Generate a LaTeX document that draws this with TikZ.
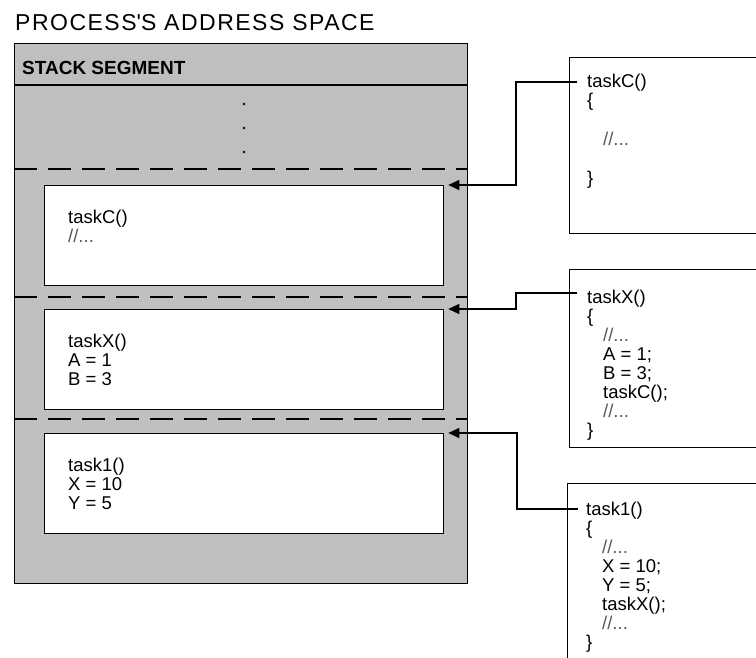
\documentclass[tikz,border=0pt]{standalone}
\usepackage{fontspec}
\setmainfont{Liberation Sans}
\newfontfamily\titlefont[LetterSpace=6.5]{Liberation Sans}
\usepackage{tikz}
\usetikzlibrary{arrows, arrows.meta, positioning}
\definecolor{stackgray}{HTML}{BFBFBF}
\newcommand{\codefont}{\fontsize{18.5}{19}\selectfont}
\newcommand{\gcomment}{\textcolor{black!65}{//...}}
\newcommand{\ind}{\hspace*{16pt}}
\tikzstyle{segment} = [rectangle, draw=black, fill=stackgray, line width=1.3pt, inner sep=0pt]
\tikzstyle{stackframe} = [rectangle, draw=black, fill=white, minimum width=399pt, minimum height=100pt, line width=1.3pt, inner sep=0pt]
\tikzstyle{listing} = [rectangle, draw=black, fill=white, minimum width=260pt, line width=1.3pt, inner sep=0pt]
\tikzstyle{code} = [align=left, inner sep=0pt, font=\codefont, anchor=north west]
\tikzstyle{divider} = [line width=1.4pt, dash pattern=on 23pt off 11pt]
\tikzstyle{arrow} = [line width=1.3pt, ->, >={Triangle[length=11pt,width=10pt]}]

\begin{document}
\begin{tikzpicture}[x=1pt, y=1pt]
\clip (0,0) rectangle (756,-657);
\node (title) [anchor=base west, inner sep=0pt, font=\titlefont\fontsize{23}{26}\selectfont] at (15,-30) {PROCESS\textquotesingle S ADDRESS SPACE};

% stack segment
\node (stack) [segment, minimum width=453pt, minimum height=540pt, anchor=north west] at (14,-43) {};
\node (header) [anchor=base west, inner sep=0pt, font=\fontsize{19}{22}\selectfont\bfseries] at (22,-74) {STACK SEGMENT};
\draw [line width=1.3pt] (14,-85) -- (467,-85);
\foreach \y in {104,128,152}
  \fill (244,-\y) circle (1.4pt);
\foreach \y in {169,297,419}
  \draw [divider] (14,-\y) -- (467,-\y);

% frames on the stack
\node (frameC) [stackframe, anchor=north west] at (44,-185) {};
\node (frameX) [stackframe, anchor=north west] at (44,-309) {};
\node (frameOne) [stackframe, anchor=north west] at (44,-433) {};
\node (frameCtxt) [code] at ([shift={(24,-24.5)}]frameC.north west) {taskC()\\\gcomment};
\node (frameXtxt) [code] at ([shift={(24,-24.5)}]frameX.north west) {taskX()\\A = 1\\B = 3};
\node (frameOnetxt) [code] at ([shift={(24,-24.5)}]frameOne.north west) {task1()\\X = 10\\Y = 5};

% source listings
\node (listC) [listing, minimum height=176pt, anchor=north west] at (569,-57) {};
\node (listX) [listing, minimum height=178pt, anchor=north west] at (569,-269) {};
\node (listOne) [listing, minimum height=250pt, anchor=north west] at (567,-483) {};
\node (listCtxt) [code] at ([shift={(18,-16.5)}]listC.north west) {taskC()\\\{\\[20pt]\ind\gcomment\\[20pt]\}};
\node (listXtxt) [code] at ([shift={(18,-20.5)}]listX.north west) {taskX()\\\{\\\ind\gcomment\\\ind A = 1;\\\ind B = 3;\\\ind taskC();\\\ind\gcomment\\\}};
\node (listOnetxt) [code] at ([shift={(19,-18.5)}]listOne.north west) {task1()\\\{\\\ind\gcomment\\\ind X = 10;\\\ind Y = 5;\\\ind taskX();\\\ind\gcomment\\\}};

\coordinate (inC) at (577,-82);
\coordinate (inX) at (577,-293);
\coordinate (inOne) at (578,-509);

\draw [arrow] (inC) -- ++(-61,0) |- ([xshift=4pt]frameC.north east);
\draw [arrow] (inX) -- ++(-61,0) |- ([xshift=4pt]frameX.north east);
\draw [arrow] (inOne) -- ++(-61,0) |- ([xshift=4pt]frameOne.north east);
\end{tikzpicture}
\end{document}
